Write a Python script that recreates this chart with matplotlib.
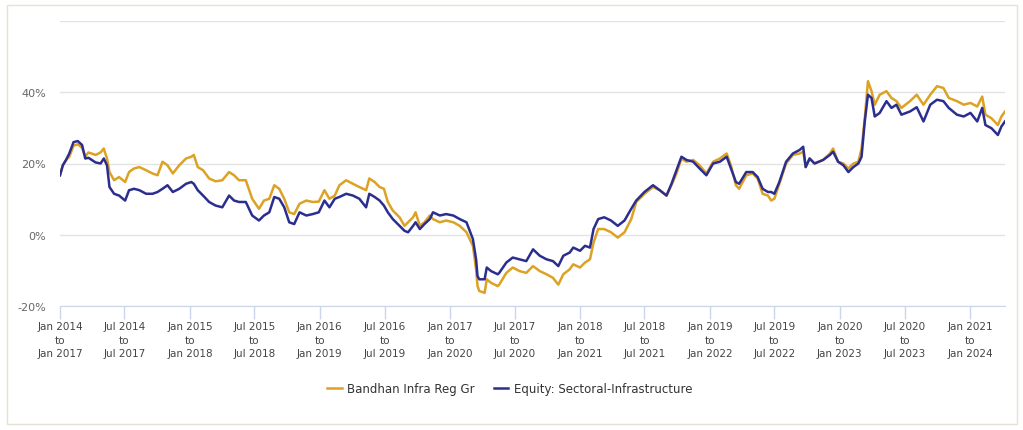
import numpy as np
import pandas as pd
import matplotlib
matplotlib.use("Agg")
import matplotlib.pyplot as plt
import matplotlib.dates as mdates
from matplotlib.patches import Rectangle

# start dates of the 3-year rolling windows
dates = [
    "2014-01-01", "2014-01-09", "2014-01-18", "2014-01-27", "2014-02-08", "2014-02-20",
    "2014-03-04", "2014-03-13", "2014-03-22", "2014-04-11", "2014-04-25", "2014-05-04",
    "2014-05-13", "2014-05-20", "2014-06-02", "2014-06-16", "2014-07-03", "2014-07-14",
    "2014-07-28", "2014-08-12", "2014-08-31", "2014-09-18", "2014-10-02", "2014-10-16",
    "2014-10-30", "2014-11-14", "2014-12-02", "2014-12-21", "2015-01-05", "2015-01-12",
    "2015-01-23", "2015-02-07", "2015-02-24", "2015-03-14", "2015-04-02", "2015-04-21",
    "2015-05-05", "2015-05-19", "2015-06-07", "2015-06-25", "2015-07-14", "2015-07-28",
    "2015-08-12", "2015-08-26", "2015-09-09", "2015-09-23", "2015-10-07", "2015-10-21",
    "2015-11-05", "2015-11-24", "2015-12-12", "2015-12-29", "2016-01-14", "2016-01-28",
    "2016-02-12", "2016-02-25", "2016-03-15", "2016-04-03", "2016-04-21", "2016-05-10",
    "2016-05-19", "2016-06-03", "2016-06-17", "2016-06-29", "2016-07-10", "2016-07-24",
    "2016-08-12", "2016-08-26", "2016-09-05", "2016-09-19", "2016-09-26", "2016-10-08",
    "2016-10-21", "2016-11-05", "2016-11-14", "2016-12-03", "2016-12-21", "2017-01-10",
    "2017-01-28", "2017-02-16", "2017-03-06", "2017-03-15", "2017-03-19", "2017-03-24",
    "2017-04-08", "2017-04-14", "2017-04-26", "2017-05-15", "2017-05-19", "2017-06-08",
    "2017-06-26", "2017-07-15", "2017-08-03", "2017-08-22", "2017-09-10", "2017-09-29",
    "2017-10-17", "2017-11-01", "2017-11-15", "2017-12-03", "2017-12-13", "2018-01-01",
    "2018-01-15", "2018-01-29", "2018-02-08", "2018-02-21", "2018-03-10", "2018-03-29",
    "2018-04-17", "2018-05-06", "2018-05-25", "2018-06-08", "2018-07-01", "2018-07-25",
    "2018-08-13", "2018-09-01", "2018-09-15", "2018-09-29", "2018-10-13", "2018-10-27",
    "2018-11-15", "2018-12-03", "2018-12-22", "2019-01-10", "2019-01-29", "2019-02-17",
    "2019-03-01", "2019-03-15", "2019-03-24", "2019-04-13", "2019-05-01", "2019-05-15",
    "2019-05-29", "2019-06-13", "2019-06-22", "2019-07-01", "2019-07-15", "2019-08-03",
    "2019-08-22", "2019-09-10", "2019-09-20", "2019-09-27", "2019-10-08", "2019-10-22",
    "2019-11-15", "2019-12-04", "2019-12-13", "2019-12-27", "2020-01-11", "2020-01-25",
    "2020-02-08", "2020-02-22", "2020-03-02", "2020-03-11", "2020-03-20", "2020-03-30",
    "2020-04-08", "2020-04-22", "2020-05-11", "2020-05-25", "2020-06-08", "2020-06-22",
    "2020-07-16", "2020-08-04", "2020-08-23", "2020-09-11", "2020-09-30", "2020-10-18",
    "2020-11-02", "2020-11-25", "2020-12-14", "2021-01-02", "2021-01-21", "2021-02-04",
    "2021-02-13", "2021-03-02", "2021-03-20", "2021-03-30", "2021-04-09",
]

bandhan = [
    16.7, 19.5, 21.0, 21.9, 25.0, 25.4, 24.4, 22.0, 23.1, 22.4, 23.1, 24.2,
    21.4, 17.6, 15.3, 16.2, 14.8, 17.6, 18.6, 19.0, 18.1, 17.2, 16.7, 20.5,
    19.5, 17.2, 19.5, 21.4, 21.9, 22.4, 19.0, 18.1, 15.8, 15.0, 15.3, 17.6,
    16.7, 15.3, 15.3, 10.1, 7.3, 9.6, 10.1, 13.9, 12.9, 10.1, 6.3, 5.8,
    8.7, 9.6, 9.2, 9.3, 12.5, 10.1, 11.0, 13.9, 15.3, 14.3, 13.4, 12.5,
    15.8, 14.8, 13.4, 12.9, 9.2, 6.8, 4.9, 2.5, 3.5, 4.9, 6.3, 2.5,
    3.5, 5.4, 4.4, 3.5, 4.0, 3.5, 2.5, 0.7, -3.1, -9.7, -14.4, -15.8,
    -16.3, -12.5, -13.5, -14.4, -14.0, -10.7, -9.2, -10.2, -10.7, -8.8, -10.2, -11.1,
    -12.1, -14.0, -11.1, -9.7, -8.3, -9.2, -7.8, -6.9, -2.2, 1.6, 1.6, 0.7,
    -0.8, 0.7, 4.4, 9.2, 11.5, 13.4, 12.5, 11.0, 13.9, 17.2, 21.4, 20.5,
    21.0, 19.5, 17.2, 20.5, 21.4, 22.8, 19.5, 13.9, 12.9, 16.7, 17.2, 15.8,
    11.5, 11.0, 9.6, 10.1, 14.3, 20.0, 22.4, 22.8, 23.3, 19.0, 21.4, 20.0,
    21.0, 22.8, 24.2, 20.5, 20.0, 18.6, 20.0, 20.5, 24.2, 32.7, 43.1, 40.3,
    36.5, 39.3, 40.3, 38.4, 37.5, 35.6, 37.5, 39.3, 36.5, 39.3, 41.7, 41.2,
    38.4, 37.5, 36.5, 37.0, 36.0, 38.8, 33.7, 32.7, 30.8, 33.2, 34.6,
]

category = [
    16.7, 19.5, 21.0, 22.8, 26.0, 26.3, 25.2, 21.4, 21.6, 20.3, 20.0, 21.4,
    19.5, 13.4, 11.5, 11.0, 9.6, 12.5, 12.9, 12.5, 11.5, 11.5, 12.0, 12.9,
    13.9, 12.0, 12.9, 14.3, 14.8, 14.3, 12.5, 11.0, 9.2, 8.2, 7.7, 11.0,
    9.6, 9.2, 9.2, 5.4, 4.0, 5.4, 6.3, 10.6, 10.1, 7.7, 3.5, 3.0,
    6.3, 5.4, 5.8, 6.3, 9.6, 7.7, 10.1, 10.6, 11.5, 11.0, 10.1, 7.7,
    11.5, 10.6, 9.6, 8.2, 6.3, 4.4, 2.5, 1.1, 0.7, 2.5, 3.5, 1.6,
    3.0, 4.4, 6.3, 5.4, 5.8, 5.4, 4.4, 3.5, -1.2, -6.9, -11.6, -12.5,
    -12.5, -9.2, -10.2, -11.1, -10.7, -7.8, -6.4, -6.9, -7.4, -4.1, -5.9, -6.9,
    -7.4, -8.8, -5.9, -5.0, -3.6, -4.5, -3.1, -3.6, 1.6, 4.4, 4.9, 4.0,
    2.5, 4.0, 7.3, 9.6, 12.0, 13.9, 12.5, 11.0, 14.3, 18.1, 21.9, 21.0,
    20.5, 18.6, 16.7, 20.0, 20.5, 21.9, 18.6, 14.8, 14.3, 17.6, 17.6, 16.2,
    12.9, 12.0, 12.0, 11.5, 14.8, 20.5, 22.8, 23.8, 24.7, 19.0, 21.4, 20.0,
    21.0, 22.4, 23.3, 20.5, 19.5, 17.6, 19.0, 20.0, 21.9, 31.8, 39.3, 38.4,
    33.2, 34.2, 37.5, 35.6, 36.5, 33.7, 34.6, 35.8, 31.8, 36.5, 37.9, 37.5,
    35.6, 33.7, 33.2, 34.2, 31.8, 35.6, 30.8, 29.9, 28.0, 30.4, 31.8,
]

series_names = ["Bandhan Infra Reg Gr", "Equity: Sectoral-Infrastructure"]
series_colors = ["#DCA224", "#2B2E8E"]

tick_dates = pd.date_range("2014-01-01", "2021-01-01", freq="6MS")
tick_labels = [f"{d.strftime('%b %Y')}\nto\n{(d + pd.DateOffset(years=3)).strftime('%b %Y')}"
               for d in tick_dates]

x = pd.to_datetime(dates)

fig = plt.figure(figsize=(10.23, 4.31), dpi=100)
fig.patches.append(Rectangle((7 / 1023, 6 / 431), 1010 / 1023, 419 / 431,
                             transform=fig.transFigure, fill=False,
                             edgecolor="#e6e2d3", linewidth=1.0))

ax = fig.add_axes([60 / 1023, 1 - 307 / 431, 945 / 1023, 285 / 431])
for vals, name, col in zip([bandhan, category], series_names, series_colors):
    ax.plot(x, vals, color=col, linewidth=1.8, label=name)

ax.set_xlim(pd.Timestamp("2014-01-01"), pd.Timestamp("2021-04-09"))
ax.set_ylim(-20, 60)
ax.set_yticks([-20, 0, 20, 40, 60])
ax.set_yticklabels(["-20%", "0%", "20%", "40%", ""])
ax.yaxis.grid(True, color="#e3e3e3", linewidth=1)
ax.set_axisbelow(True)
ax.tick_params(axis="y", length=0, pad=10, labelsize=8, labelcolor="#666666")

ax.set_xticks(tick_dates)
ax.set_xticklabels(tick_labels, fontsize=7.5, color="#444444", linespacing=1.45)
ax.tick_params(axis="x", length=9, width=1, color="#ccd6eb", pad=2)

for s in ["top", "right", "left"]:
    ax.spines[s].set_visible(False)
ax.spines["bottom"].set_color("#ccd6eb")

fig.legend(loc="center", bbox_to_anchor=(510 / 1023, 1 - 390 / 431), ncol=2,
           frameon=False, fontsize=8.5, handlelength=1.2, columnspacing=1.6,
           handletextpad=0.5, labelcolor="#333333")

fig.savefig("out.png", dpi=100)
